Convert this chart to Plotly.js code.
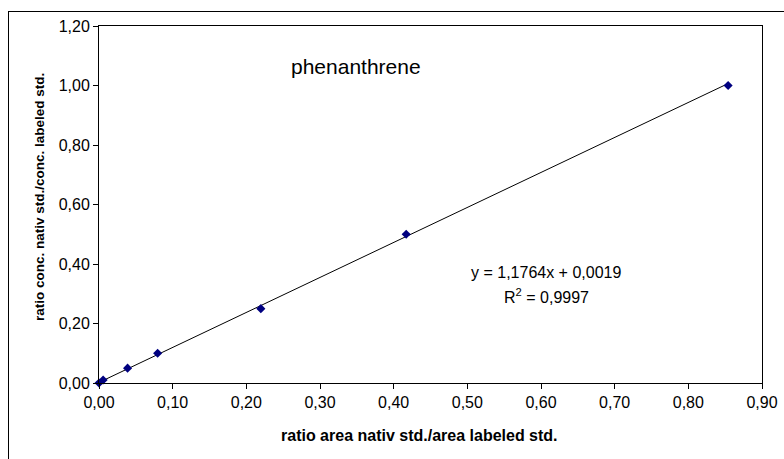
<!DOCTYPE html>
<html>
<head>
<meta charset="utf-8">
<script src="https://cdn.plot.ly/plotly-3.0.1.min.js"></script>
<style>
html, body { margin:0; padding:0; width:784px; height:459px; overflow:hidden; background:#fff; }
#chart { position:absolute; left:0; top:0; width:784px; height:459px; }
#frame { position:absolute; left:8px; top:11px; width:900px; height:600px; border:1px solid #000; pointer-events:none; }
</style>
</head>
<body>
<div id="chart"></div>
<div id="frame"></div>
<script>
// Data
const ratioArea = [0, 0.0056, 0.0388, 0.0796, 0.2197, 0.417, 0.854];
const ratioConc = [0, 0.01, 0.05, 0.10, 0.25, 0.50, 1.00];
const slope = 1.1764;
const intercept = 0.0019;
const rSquared = '0,9997';
const chartLabel = 'phenanthrene';
const xTitle = 'ratio area nativ std./area labeled std.';
const yTitle = 'ratio conc. nativ std./conc. labeled std.';

const xMin = Math.min(...ratioArea);
const xMax = Math.max(...ratioArea);
const trendX = [xMin, xMax];
const trendY = trendX.map(v => slope * v + intercept);

const fmt = v => v.toFixed(4).replace('.', ',');

const font = 'Liberation Sans, Arial, sans-serif';

const traces = [
  {
    x: trendX, y: trendY, mode: 'lines', type: 'scatter',
    line: { color: '#000000', width: 1 }, hoverinfo: 'skip', showlegend: false
  },
  {
    x: ratioArea, y: ratioConc, mode: 'markers', type: 'scatter',
    marker: { symbol: 'diamond', size: 7, color: '#000080', line: { width: 0 } },
    cliponaxis: false, showlegend: false
  }
];

const layout = {
  width: 784, height: 459,
  margin: { l: 99, r: 22, t: 26, b: 76 },
  paper_bgcolor: 'rgba(0,0,0,0)',
  plot_bgcolor: '#ffffff',
  separators: ', ',
  font: { family: font, size: 16, color: '#000' },
  showlegend: false,
  xaxis: {
    range: [0, 0.9], dtick: 0.1, tick0: 0, tickformat: '.2f',
    showgrid: false, zeroline: false,
    showline: true, linecolor: '#000', linewidth: 1, mirror: true,
    ticks: 'outside', ticklen: 5, tickcolor: '#000',
    tickfont: { family: font, size: 16, color: '#000' }
  },
  yaxis: {
    range: [0, 1.2], dtick: 0.2, tick0: 0, tickformat: '.2f',
    showgrid: false, zeroline: false,
    showline: true, linecolor: '#000', linewidth: 1, mirror: true,
    ticks: 'outside', ticklen: 5, tickcolor: '#000',
    tickfont: { family: font, size: 16, color: '#000' }
  },
  annotations: [
    { text: chartLabel, xref: 'paper', yref: 'paper',
      x: (356 - 99) / 663, y: (383 - 66) / 357, xanchor: 'center', yanchor: 'middle',
      showarrow: false, font: { family: font, size: 21, color: '#000' } },
    { text: 'y = ' + fmt(slope) + 'x + ' + fmt(intercept), xref: 'paper', yref: 'paper',
      x: (546 - 99) / 663, y: (383 - 272) / 357, xanchor: 'center', yanchor: 'middle',
      showarrow: false, font: { family: font, size: 16, color: '#000' } },
    { text: 'R<sup>2</sup> = ' + rSquared, xref: 'paper', yref: 'paper',
      x: (546 - 99) / 663, y: (383 - 296) / 357, xanchor: 'center', yanchor: 'middle',
      showarrow: false, font: { family: font, size: 16, color: '#000' } },
    { text: '<b>' + xTitle + '</b>', xref: 'paper', yref: 'paper',
      x: (419 - 99) / 663, y: (383 - 436) / 357, xanchor: 'center', yanchor: 'middle',
      showarrow: false, font: { family: font, size: 16, color: '#000' } },
    { text: '<b>' + yTitle + '</b>', xref: 'paper', yref: 'paper', textangle: -90,
      x: (39 - 99) / 663, y: (383 - 197) / 357, xanchor: 'center', yanchor: 'middle',
      showarrow: false, font: { family: font, size: 13.5, color: '#000' } }
  ]
};

Plotly.newPlot('chart', traces, layout, { displayModeBar: false, staticPlot: true });
</script>
</body>
</html>
